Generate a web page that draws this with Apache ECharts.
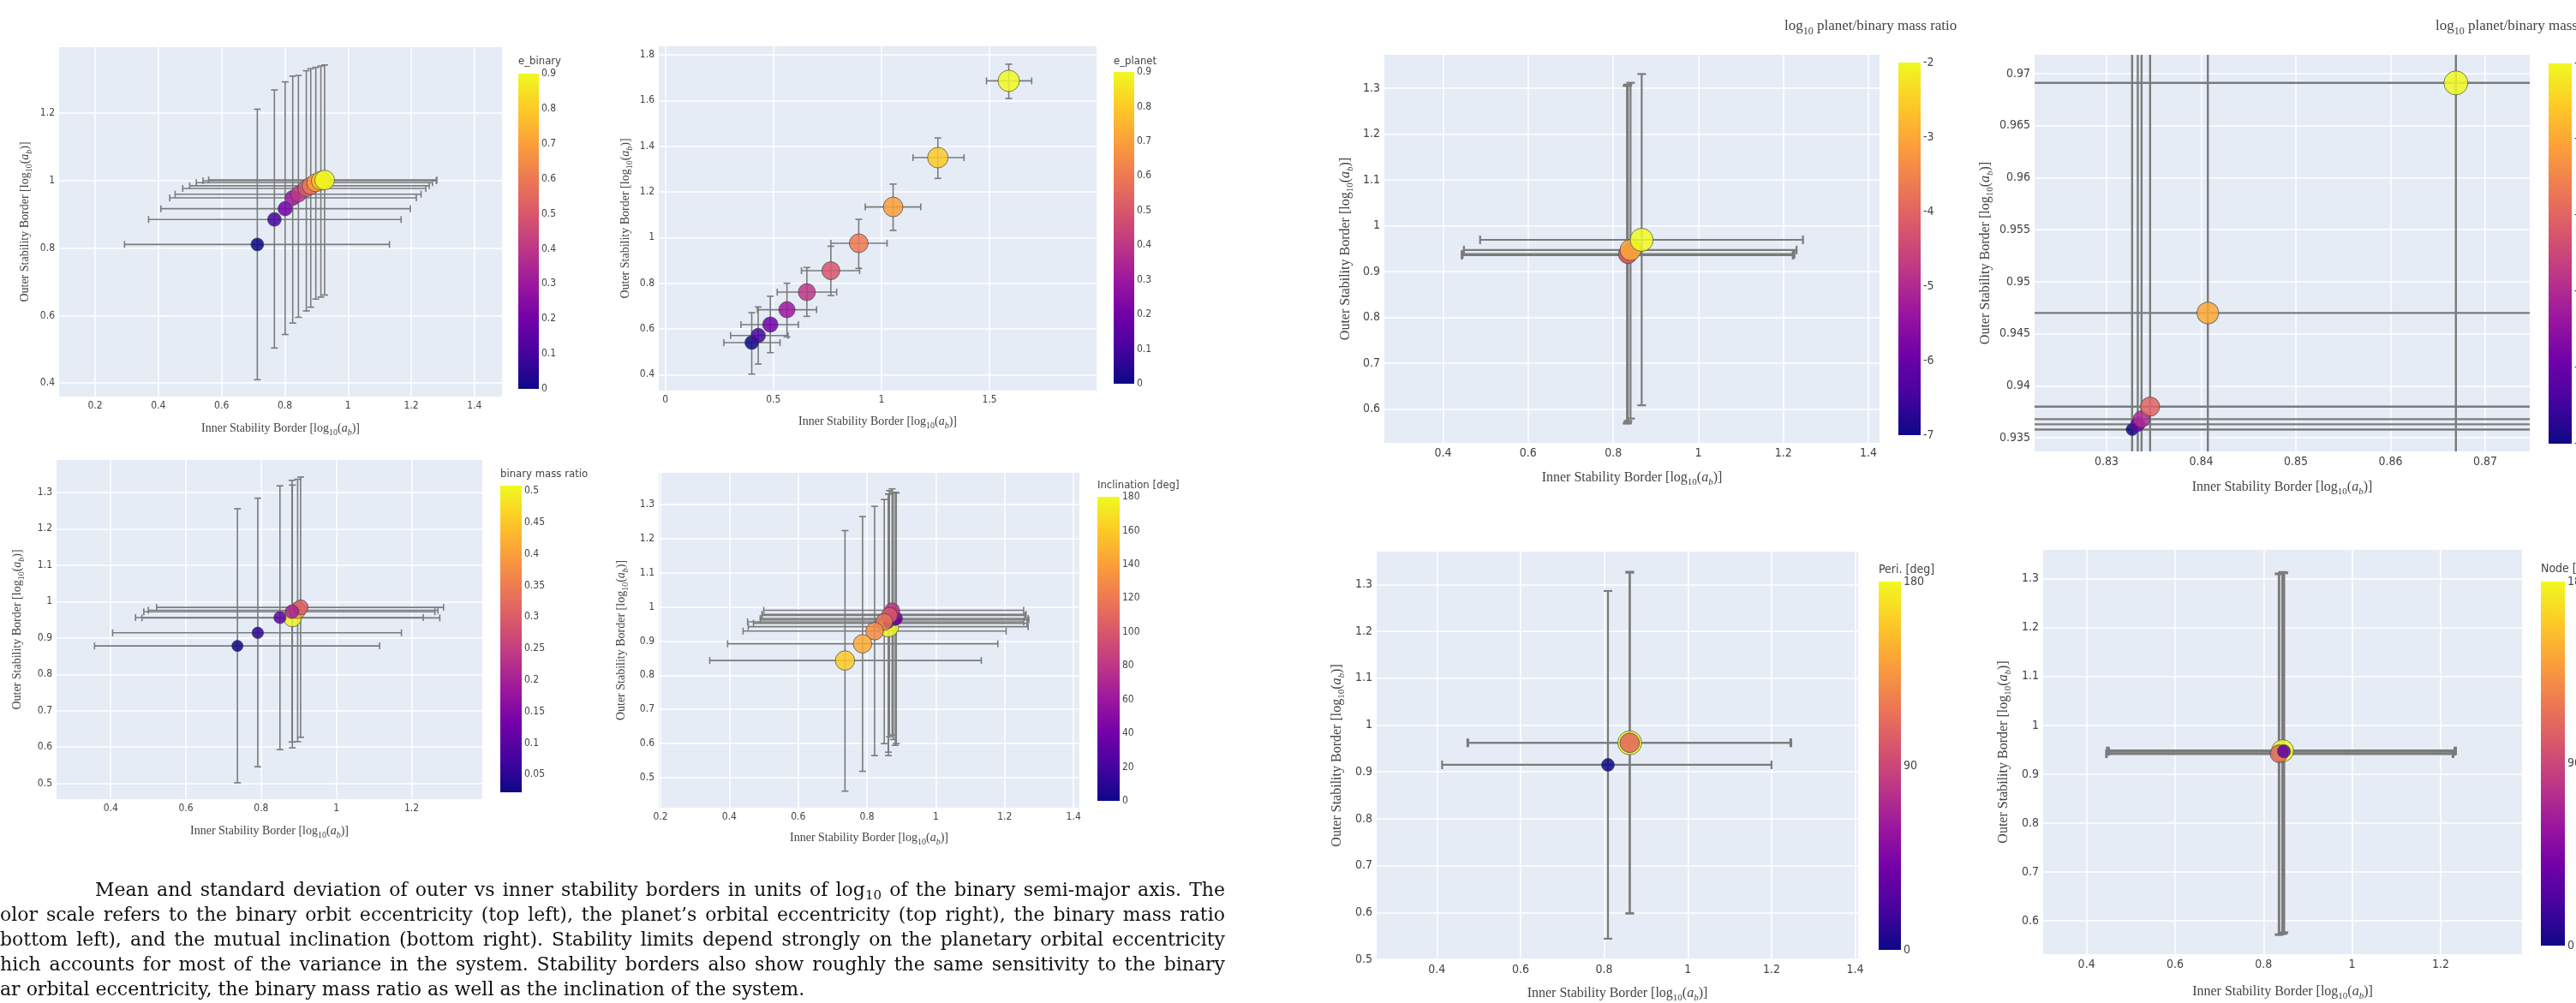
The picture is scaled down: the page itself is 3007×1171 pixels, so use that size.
<!DOCTYPE html>
<html>
<head>
<meta charset="utf-8">
<title>Stability borders</title>
<script src="https://cdn.jsdelivr.net/npm/echarts@6/dist/echarts.min.js"></script>
<style>
    html, body { margin: 0; padding: 0; background: #fff; overflow: hidden; }
    #chart { position: absolute; left: 0; top: 0; width: 3007px; height: 1171px; }
    .cap {
        position: absolute;
        font-family: "DejaVu Serif", serif;
        font-size: 22px;
        line-height: 29px;
        color: #111;
        white-space: nowrap;
        text-align: justify;
        text-align-last: justify;
    }
    .cap.last { text-align: left; text-align-last: left; }
    .cap sub { font-size: 15px; line-height: 0; vertical-align: -4px; }
</style>
</head>
<body>
<div id="chart"></div>
<div class="cap" style="top:1024px;left:111px;width:1319px">Mean and standard deviation of outer vs inner stability borders in units of log<sub>10</sub> of the binary semi-major axis. The</div>
<div class="cap" style="top:1053px;left:0;width:1430px">olor scale refers to the binary orbit eccentricity (top left), the planet’s orbital eccentricity (top right), the binary mass ratio</div>
<div class="cap" style="top:1082px;left:0;width:1430px">bottom left), and the mutual inclination (bottom right). Stability limits depend strongly on the planetary orbital eccentricity</div>
<div class="cap" style="top:1111px;left:0;width:1430px">hich accounts for most of the variance in the system. Stability borders also show roughly the same sensitivity to the binary</div>
<div class="cap last" style="top:1140px;left:0;width:1430px">ar orbital eccentricity, the binary mass ratio as well as the inclination of the system.</div>
<script>
// 数据: 每个面板的均值和标准差 (x = inner border, y = outer border)

// binary eccentricity (top left)
const eBinary    = [0, 0.1, 0.2, 0.3, 0.4, 0.5, 0.6, 0.7, 0.8, 0.9];
const eBinaryX   = [0.713, 0.767, 0.801, 0.825, 0.843, 0.868, 0.882, 0.898, 0.914, 0.926];
const eBinaryY   = [0.811, 0.885, 0.917, 0.949, 0.960, 0.977, 0.985, 0.994, 1.000, 1.002];
const eBinaryXLo = [0.293, 0.369, 0.408, 0.436, 0.453, 0.477, 0.499, 0.520, 0.541, 0.559];
const eBinaryXHi = [1.131, 1.168, 1.197, 1.216, 1.231, 1.246, 1.257, 1.267, 1.279, 1.281];
const eBinaryYLo = [0.410, 0.504, 0.544, 0.578, 0.595, 0.614, 0.625, 0.649, 0.655, 0.661];
const eBinaryYHi = [1.212, 1.269, 1.293, 1.310, 1.312, 1.326, 1.332, 1.336, 1.340, 1.343];

// planet eccentricity (top right)
const ePlanet    = [0, 0.1, 0.2, 0.3, 0.4, 0.5, 0.6, 0.7, 0.8, 0.9];
const ePlanetX   = [0.400, 0.430, 0.486, 0.563, 0.655, 0.766, 0.895, 1.054, 1.261, 1.589];
const ePlanetY   = [0.540, 0.571, 0.619, 0.684, 0.761, 0.855, 0.975, 1.134, 1.350, 1.686];
const ePlanetXLo = [0.271, 0.302, 0.350, 0.426, 0.518, 0.630, 0.766, 0.925, 1.146, 1.486];
const ePlanetXHi = [0.531, 0.568, 0.616, 0.700, 0.793, 0.899, 1.026, 1.182, 1.382, 1.695];
const ePlanetYLo = [0.402, 0.446, 0.496, 0.565, 0.655, 0.746, 0.865, 1.031, 1.259, 1.609];
const ePlanetYHi = [0.671, 0.696, 0.743, 0.800, 0.869, 0.962, 1.080, 1.234, 1.436, 1.759];

// binary mass ratio (bottom left)
const massQ    = [0.5, 0.025, 0.05, 0.1, 0.4, 0.3, 0.2];
const massQX   = [0.883, 0.737, 0.791, 0.850, 0.897, 0.905, 0.882];
const massQY   = [0.955, 0.878, 0.914, 0.956, 0.976, 0.984, 0.972];
const massQXLo = [0.483, 0.357, 0.405, 0.466, 0.500, 0.522, 0.488];
const massQXHi = [1.275, 1.115, 1.173, 1.231, 1.270, 1.285, 1.262];
const massQYLo = [0.598, 0.502, 0.546, 0.593, 0.615, 0.627, 0.614];
const massQYHi = [1.320, 1.255, 1.284, 1.318, 1.336, 1.342, 1.333];

// mutual inclination (bottom right)
const incl    = [180, 0, 20, 40, 60, 80, 100, 115, 130, 145, 160];
const inclX   = [0.862, 0.862, 0.882, 0.885, 0.876, 0.873, 0.865, 0.850, 0.822, 0.787, 0.736];
const inclY   = [0.942, 0.952, 0.962, 0.966, 0.978, 0.990, 0.975, 0.956, 0.929, 0.892, 0.843];
const inclXLo = [0.455, 0.470, 0.490, 0.490, 0.495, 0.500, 0.495, 0.453, 0.440, 0.395, 0.343];
const inclXHi = [1.268, 1.265, 1.270, 1.268, 1.262, 1.255, 1.258, 1.255, 1.204, 1.180, 1.132];
const inclYLo = [0.565, 0.575, 0.595, 0.600, 0.612, 0.625, 0.620, 0.600, 0.565, 0.519, 0.461];
const inclYHi = [1.330, 1.330, 1.335, 1.333, 1.335, 1.345, 1.340, 1.314, 1.294, 1.264, 1.223];

// log10 planet/binary mass ratio (right side, full and zoomed view)
const logMass    = [-7, -6, -5, -4, -3, -2];
const logMassX   = [0.8327, 0.8333, 0.8337, 0.8346, 0.8407, 0.8669];
const logMassY   = [0.9358, 0.9363, 0.9368, 0.9380, 0.9470, 0.9691];
const logMassXLo = [0.444, 0.444, 0.445, 0.446, 0.449, 0.487];
const logMassXHi = [1.222, 1.223, 1.224, 1.226, 1.231, 1.246];
const logMassYLo = [0.568, 0.569, 0.570, 0.574, 0.579, 0.608];
const logMassYHi = [1.305, 1.306, 1.307, 1.308, 1.312, 1.331];

// argument of pericentre
const peri    = [0, 180, 108];
const periX   = [0.809, 0.861, 0.861];
const periY   = [0.915, 0.962, 0.962];
const periXLo = [0.4125, 0.473, 0.475];
const periXHi = [1.200, 1.247, 1.245];
const periYLo = [0.544, 0.598, 0.598];
const periYHi = [1.286, 1.327, 1.325];

// longitude of node
const node    = [180, 108, 30];
const nodeX   = [0.843, 0.835, 0.846];
const nodeY   = [0.948, 0.942, 0.947];
const nodeXLo = [0.447, 0.445, 0.450];
const nodeXHi = [1.234, 1.228, 1.232];
const nodeYLo = [0.574, 0.572, 0.576];
const nodeYHi = [1.313, 1.310, 1.312];

// tick labels
const ticks02to14   = [0.2, 0.4, 0.6, 0.8, 1, 1.2, 1.4];
const ticks04to14   = [0.4, 0.6, 0.8, 1, 1.2, 1.4];
const ticks04to12   = [0.4, 0.6, 0.8, 1, 1.2];
const ticksTLy      = [0.4, 0.6, 0.8, 1, 1.2];
const ticksTRx      = [0, 0.5, 1, 1.5];
const ticksTRy      = [0.4, 0.6, 0.8, 1, 1.2, 1.4, 1.6, 1.8];
const ticks05to13   = [0.5, 0.6, 0.7, 0.8, 0.9, 1, 1.1, 1.2, 1.3];
const ticks06to13   = [0.6, 0.7, 0.8, 0.9, 1, 1.1, 1.2, 1.3];
const ticksZoomX    = [0.83, 0.84, 0.85, 0.86, 0.87];
const ticksZoomY    = [0.935, 0.94, 0.945, 0.95, 0.955, 0.96, 0.965, 0.97];
const ticksEcc      = [0, 0.1, 0.2, 0.3, 0.4, 0.5, 0.6, 0.7, 0.8, 0.9];
const ticksMassQ    = [0.05, 0.1, 0.15, 0.2, 0.25, 0.3, 0.35, 0.4, 0.45, 0.5];
const ticksAngle20  = [0, 20, 40, 60, 80, 100, 120, 140, 160, 180];
const ticksAngle90  = [0, 90, 180];
const ticksLogMass  = [-7, -6, -5, -4, -3, -2];

// plotly "Plasma"
const plasma = ['#0d0887', '#46039f', '#7201a8', '#9c179e', '#bd3786', '#d8576b', '#ed7953', '#fb9f3a', '#fdca26', '#f0f921'];

const serif = '"Liberation Serif", "DejaVu Serif", serif';
const sans = '"DejaVu Sans Condensed", "DejaVu Sans", sans-serif';
const textColor = '#444';

document.addEventListener('DOMContentLoaded', function() {
    initStabilityChart();
});

// rich text styles for log10(a_b)
function nameRich(size) {
    const small = Math.round(size * 0.68);
    return {
        sub: { fontFamily: serif, fontSize: small, color: textColor, verticalAlign: 'bottom', lineHeight: Math.round(size * 0.95) },
        it: { fontFamily: serif, fontSize: size, fontStyle: 'italic', color: textColor },
        subit: { fontFamily: serif, fontSize: small, fontStyle: 'italic', color: textColor, verticalAlign: 'bottom', lineHeight: Math.round(size * 0.95) }
    };
}

// error bars as crosses with caps
function errorBarRenderer(lineWidth, cap) {
    return function(params, api) {
        const x = api.value(0), y = api.value(1);
        const l = api.coord([api.value(2), y]);
        const r = api.coord([api.value(3), y]);
        const b = api.coord([x, api.value(4)]);
        const t = api.coord([x, api.value(5)]);
        const style = { stroke: '#7b7b7b', lineWidth: lineWidth };
        const seg = (x1, y1, x2, y2) => ({ type: 'line', shape: { x1: x1, y1: y1, x2: x2, y2: y2 }, style: style });
        return {
            type: 'group',
            children: [
                seg(l[0], l[1], r[0], r[1]),
                seg(l[0], l[1] - cap, l[0], l[1] + cap),
                seg(r[0], r[1] - cap, r[0], r[1] + cap),
                seg(b[0], b[1], t[0], t[1]),
                seg(b[0] - cap, b[1], b[0] + cap, b[1]),
                seg(t[0] - cap, t[1], t[0] + cap, t[1])
            ]
        };
    };
}

// gradient bar drawn on its own little grid
function renderColorbar(params, api) {
    const p0 = api.coord([api.value(0), api.value(3)]);
    const p1 = api.coord([api.value(2), api.value(1)]);
    const stops = plasma.map((c, i) => ({ offset: i / (plasma.length - 1), color: c }));
    return {
        type: 'rect',
        shape: { x: p0[0], y: p0[1], width: p1[0] - p0[0], height: p1[1] - p0[1] },
        style: { fill: new echarts.graphic.LinearGradient(0, 1, 0, 0, stops) }
    };
}

function initStabilityChart() {
    const chartDom = document.getElementById('chart');
    const myChart = echarts.init(chartDom);

    const panels = [
        { grid: { left: 69, top: 55, width: 517, height: 408 }, xRange: [0.086, 1.487], yRange: [0.36, 1.396],
          xTicks: ticks02to14, yTicks: ticksTLy, xGap: 27, yGap: 30, label: 12, name: 14,
          c: eBinary, xs: eBinaryX, ys: eBinaryY, xlo: eBinaryXLo, xhi: eBinaryXHi, ylo: eBinaryYLo, yhi: eBinaryYHi,
          cRange: [0, 0.9], size: [15, 23], err: [1.6, 4],
          bar: { left: 605, top: 86, width: 24, height: 368 }, barTicks: ticksEcc,
          title: 'e_binary', titlePos: [605, 63], titleFont: sans, titleSize: 13 },
        { grid: { left: 769, top: 54, width: 511, height: 402 }, xRange: [-0.03, 1.995], yRange: [0.33, 1.8375],
          xTicks: ticksTRx, yTicks: ticksTRy, xGap: 26, yGap: 29, label: 12, name: 14,
          c: ePlanet, xs: ePlanetX, ys: ePlanetY, xlo: ePlanetXLo, xhi: ePlanetXHi, ylo: ePlanetYLo, yhi: ePlanetYHi,
          cRange: [0, 0.9], size: [16, 25], err: [1.6, 4],
          bar: { left: 1300, top: 84, width: 24, height: 364 }, barTicks: ticksEcc,
          title: 'e_planet', titlePos: [1300, 63], titleFont: sans, titleSize: 13 },
        { grid: { left: 66, top: 537, width: 497, height: 396 }, xRange: [0.256, 1.388], yRange: [0.457, 1.389],
          xTicks: ticks04to12, yTicks: ticks05to13, xGap: 27, yGap: 36, label: 12, name: 14,
          c: massQ, xs: massQX, ys: massQY, xlo: massQXLo, xhi: massQXHi, ylo: massQYLo, yhi: massQYHi,
          cRange: [0.022, 0.508], size: [13, 21], err: [1.6, 4],
          bar: { left: 584, top: 567, width: 25, height: 358 }, barTicks: ticksMassQ,
          title: 'binary mass ratio', titlePos: [584, 545], titleFont: sans, titleSize: 13 },
        { grid: { left: 769, top: 552, width: 491, height: 391 }, xRange: [0.195, 1.417], yRange: [0.4125, 1.392],
          xTicks: ticks02to14, yTicks: ticks05to13, xGap: 25, yGap: 34, label: 12, name: 14,
          c: incl, xs: inclX, ys: inclY, xlo: inclXLo, xhi: inclXHi, ylo: inclYLo, yhi: inclYHi,
          cRange: [0, 180], size: [12, 24], err: [1.6, 4],
          bar: { left: 1281, top: 580, width: 26, height: 355 }, barTicks: ticksAngle20,
          title: 'Inclination [deg]', titlePos: [1281, 558], titleFont: sans, titleSize: 13 },
        { grid: { left: 1616, top: 64, width: 578, height: 453 }, xRange: [0.262, 1.426], yRange: [0.526, 1.373],
          xTicks: ticks04to14, yTicks: ticks06to13, xGap: 30, yGap: 34, label: 14, name: 16,
          c: logMass, xs: logMassX, ys: logMassY, xlo: logMassXLo, xhi: logMassXHi, ylo: logMassYLo, yhi: logMassYHi,
          cRange: [-7, -2], size: [15, 27], err: [2.2, 5],
          bar: { left: 2216, top: 73, width: 26, height: 435 }, barTicks: ticksLogMass,
          title: 'log{sub|10} planet/binary mass ratio', titlePos: [2083, 19], titleFont: serif, titleSize: 17 },
        { grid: { left: 2375, top: 64, width: 578, height: 463 }, xRange: [0.8224, 0.8747], yRange: [0.9337, 0.9718],
          xTicks: ticksZoomX, yTicks: ticksZoomY, xGap: 31, yGap: 46, label: 14, name: 16,
          c: logMass, xs: logMassX, ys: logMassY, xlo: logMassXLo, xhi: logMassXHi, ylo: logMassYLo, yhi: logMassYHi,
          cRange: [-7, -2], size: [14, 28], err: [2.4, 5],
          bar: { left: 2975, top: 74, width: 27, height: 444 }, barTicks: ticksLogMass,
          title: 'log{sub|10} planet/binary mass ratio', titlePos: [2843, 19], titleFont: serif, titleSize: 17 },
        { grid: { left: 1607, top: 644, width: 562, height: 476 }, xRange: [0.256, 1.407], yRange: [0.5, 1.37],
          xTicks: ticks04to14, yTicks: ticks05to13, xGap: 29, yGap: 35, label: 14, name: 16,
          c: peri, xs: periX, ys: periY, xlo: periXLo, xhi: periXHi, ylo: periYLo, yhi: periYHi,
          cRange: [0, 180], size: [15, 28], err: [2.2, 5],
          bar: { left: 2193, top: 679, width: 26, height: 430 }, barTicks: ticksAngle90,
          title: 'Peri. [deg]', titlePos: [2193, 655], titleFont: sans, titleSize: 14 },
        { grid: { left: 2385, top: 642, width: 559, height: 472 }, xRange: [0.302, 1.384], yRange: [0.532, 1.359],
          xTicks: ticks04to12, yTicks: ticks06to13, xGap: 33, yGap: 35, label: 14, name: 16,
          c: node, xs: nodeX, ys: nodeY, xlo: nodeXLo, xhi: nodeXHi, ylo: nodeYLo, yhi: nodeYHi,
          cRange: [0, 180], size: [13, 26], err: [3, 5],
          bar: { left: 2966, top: 679, width: 28, height: 425 }, barTicks: ticksAngle90,
          title: 'Node [deg]', titlePos: [2966, 654], titleFont: sans, titleSize: 14 }
    ];

    const grid = [], xAxis = [], yAxis = [], series = [], visualMap = [], title = [];

    panels.forEach(function(p, i) {
        const g = 2 * i, gb = 2 * i + 1;
        // outerBoundsMode none: keep the exact pixel boxes (v6 would shrink grids to keep labels inside)
        grid.push(Object.assign({ show: true, backgroundColor: '#e5ecf6', borderWidth: 0, outerBoundsMode: 'none', containLabel: false }, p.grid));
        grid.push(Object.assign({ show: false, outerBoundsMode: 'none', containLabel: false }, p.bar));

        const labelStyle = { fontFamily: sans, fontSize: p.label, color: textColor };
        const nameStyle = { fontFamily: serif, fontSize: p.name, color: textColor, lineHeight: Math.round(p.name * 1.4), rich: nameRich(p.name) };

        xAxis.push({
            type: 'value', gridIndex: g, min: p.xRange[0], max: p.xRange[1],
            name: 'Inner Stability Border [log{sub|10}({it|a}{subit|b})]', nameLocation: 'middle', nameGap: p.xGap,
            nameTextStyle: nameStyle,
            axisLine: { show: false },
            axisTick: { show: false, customValues: p.xTicks },
            axisLabel: Object.assign({ customValues: p.xTicks, margin: 5, showMinLabel: true, showMaxLabel: true }, labelStyle),
            splitLine: { show: true, lineStyle: { color: '#ffffff', width: 1.5 } }
        });
        yAxis.push({
            type: 'value', gridIndex: g, min: p.yRange[0], max: p.yRange[1],
            name: 'Outer Stability Border [log{sub|10}({it|a}{subit|b})]', nameLocation: 'middle', nameGap: p.yGap, nameRotate: 90,
            nameTextStyle: nameStyle,
            axisLine: { show: false },
            axisTick: { show: false, customValues: p.yTicks },
            axisLabel: Object.assign({ customValues: p.yTicks, margin: 5, showMinLabel: true, showMaxLabel: true }, labelStyle),
            splitLine: { show: true, lineStyle: { color: '#ffffff', width: 1.5 } }
        });

        // colour bar axes
        xAxis.push({ type: 'value', gridIndex: gb, min: 0, max: 1, show: false });
        yAxis.push({
            type: 'value', gridIndex: gb, min: p.cRange[0], max: p.cRange[1], position: 'right',
            axisLine: { show: false },
            axisTick: { show: false, customValues: p.barTicks },
            axisLabel: Object.assign({ customValues: p.barTicks, margin: 3, showMinLabel: true, showMaxLabel: true }, labelStyle),
            splitLine: { show: false }
        });

        series.push({
            type: 'custom', xAxisIndex: g, yAxisIndex: g, clip: true, silent: true, z: 2,
            renderItem: errorBarRenderer(p.err[0], p.err[1]),
            data: p.xs.map((x, k) => [x, p.ys[k], p.xlo[k], p.xhi[k], p.ylo[k], p.yhi[k]])
        });
        series.push({
            type: 'scatter', xAxisIndex: g, yAxisIndex: g, z: 3, symbol: 'circle',
            itemStyle: { opacity: 0.85, borderColor: 'rgba(50,60,70,0.75)', borderWidth: 1 },
            emphasis: { disabled: true },
            data: p.xs.map((x, k) => [x, p.ys[k], p.c[k]])
        });
        series.push({
            type: 'custom', xAxisIndex: gb, yAxisIndex: gb, silent: true,
            renderItem: renderColorbar,
            data: [[0, p.cRange[0], 1, p.cRange[1]]]
        });

        visualMap.push({
            type: 'continuous', show: false, seriesIndex: 3 * i + 1, dimension: 2,
            min: p.cRange[0], max: p.cRange[1],
            inRange: { color: plasma, symbolSize: p.size }
        });

        title.push({
            text: p.title, left: p.titlePos[0], top: p.titlePos[1], padding: 0,
            textStyle: {
                fontFamily: p.titleFont, fontSize: p.titleSize, fontWeight: 'normal', color: textColor,
                rich: {
                    sub: { fontFamily: serif, fontSize: Math.round(p.titleSize * 0.68), color: textColor, verticalAlign: 'bottom', lineHeight: p.titleSize }
                },
                lineHeight: Math.round(p.titleSize * 1.4)
            }
        });
    });

    const option = {
        animation: false,
        backgroundColor: '#ffffff',
        title: title,
        grid: grid,
        xAxis: xAxis,
        yAxis: yAxis,
        visualMap: visualMap,
        series: series
    };
    myChart.setOption(option);
}
</script>
</body>
</html>
